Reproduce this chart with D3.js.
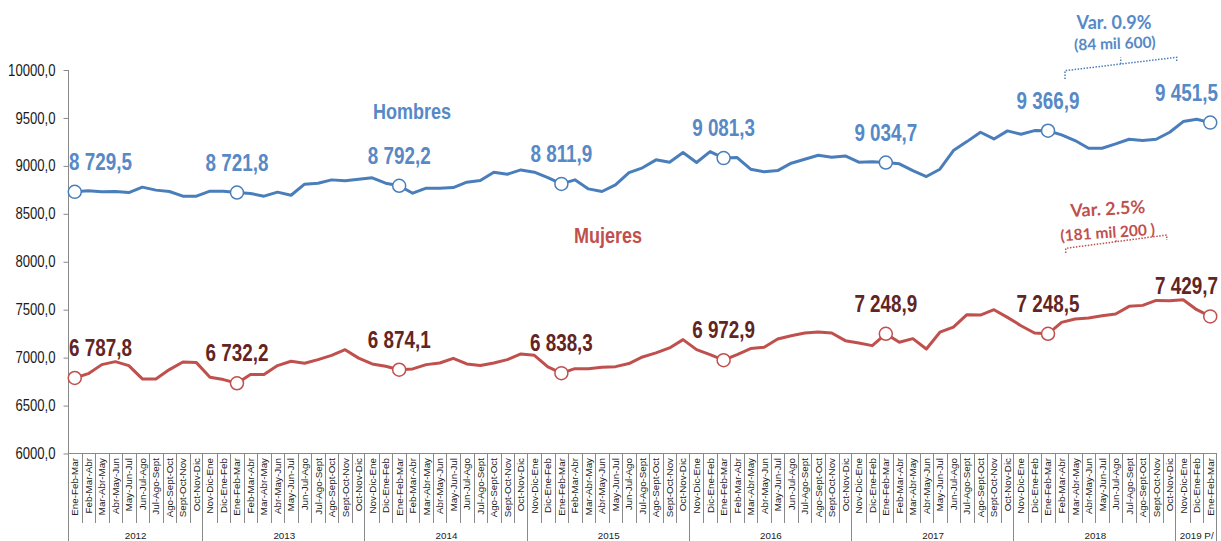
<!DOCTYPE html>
<html>
<head>
<meta charset="utf-8">
<script src="https://cdn.jsdelivr.net/npm/d3@7"></script>
<style>
  html, body { margin: 0; padding: 0; background: #fff; }
  svg { display: block; }
</style>
</head>
<body>
<svg id="chart" width="1221" height="541"></svg>
<script>
const categories = [
  "Ene-Feb-Mar","Feb-Mar-Abr","Mar-Abr-May","Abr-May-Jun","May-Jun-Jul","Jun-Jul-Ago","Jul-Ago-Sept","Ago-Sept-Oct","Sept-Oct-Nov","Oct-Nov-Dic",
  "Nov-Dic-Ene","Dic-Ene-Feb","Ene-Feb-Mar","Feb-Mar-Abr","Mar-Abr-May","Abr-May-Jun","May-Jun-Jul","Jun-Jul-Ago","Jul-Ago-Sept","Ago-Sept-Oct","Sept-Oct-Nov","Oct-Nov-Dic",
  "Nov-Dic-Ene","Dic-Ene-Feb","Ene-Feb-Mar","Feb-Mar-Abr","Mar-Abr-May","Abr-May-Jun","May-Jun-Jul","Jun-Jul-Ago","Jul-Ago-Sept","Ago-Sept-Oct","Sept-Oct-Nov","Oct-Nov-Dic",
  "Nov-Dic-Ene","Dic-Ene-Feb","Ene-Feb-Mar","Feb-Mar-Abr","Mar-Abr-May","Abr-May-Jun","May-Jun-Jul","Jun-Jul-Ago","Jul-Ago-Sept","Ago-Sept-Oct","Sept-Oct-Nov","Oct-Nov-Dic",
  "Nov-Dic-Ene","Dic-Ene-Feb","Ene-Feb-Mar","Feb-Mar-Abr","Mar-Abr-May","Abr-May-Jun","May-Jun-Jul","Jun-Jul-Ago","Jul-Ago-Sept","Ago-Sept-Oct","Sept-Oct-Nov","Oct-Nov-Dic",
  "Nov-Dic-Ene","Dic-Ene-Feb","Ene-Feb-Mar","Feb-Mar-Abr","Mar-Abr-May","Abr-May-Jun","May-Jun-Jul","Jun-Jul-Ago","Jul-Ago-Sept","Ago-Sept-Oct","Sept-Oct-Nov","Oct-Nov-Dic",
  "Nov-Dic-Ene","Dic-Ene-Feb","Ene-Feb-Mar","Feb-Mar-Abr","Mar-Abr-May","Abr-May-Jun","May-Jun-Jul","Jun-Jul-Ago","Jul-Ago-Sept","Ago-Sept-Oct","Sept-Oct-Nov","Oct-Nov-Dic",
  "Nov-Dic-Ene","Dic-Ene-Feb","Ene-Feb-Mar"
];
const yearLabels = ["2012","2013","2014","2015","2016","2017","2018","2019 P/"];
const yearCounts = [10,12,12,12,12,12,12,3];

const hombres = [
  8729.5, 8740, 8729, 8733, 8722, 8778, 8747, 8733, 8684, 8684,
  8736, 8736, 8721.8, 8712, 8684, 8726, 8694, 8809, 8819, 8854, 8844, 8860,
  8875, 8819, 8792.2, 8715, 8767, 8767, 8774, 8830, 8847, 8934, 8913, 8958,
  8934, 8878, 8811.9, 8854, 8760, 8733, 8802, 8930, 8980, 9063, 9038, 9139,
  9035, 9149, 9081.3, 9087, 8965, 8938, 8951, 9028, 9069, 9111, 9090, 9104,
  9038, 9042, 9034.7, 9021, 8951, 8889, 8965, 9160, 9253, 9351, 9281, 9365,
  9330, 9368, 9366.9, 9323, 9264, 9184, 9184, 9229, 9278, 9264, 9278, 9351,
  9462, 9486, 9451.5
];
const mujeres = [
  6787.8, 6833, 6927, 6958, 6917, 6778, 6778, 6875, 6955, 6948,
  6795, 6771, 6732.2, 6823, 6823, 6917, 6962, 6941, 6979, 7024, 7083, 6995,
  6934, 6910, 6874.1, 6882, 6927, 6944, 6993, 6934, 6917, 6944, 6979, 7038,
  7024, 6903, 6838.3, 6885, 6885, 6899, 6906, 6938, 7007, 7049, 7101, 7188,
  7083, 7031, 6972.9, 7031, 7094, 7108, 7194, 7229, 7257, 7267, 7257, 7177,
  7153, 7125, 7248.9, 7160, 7198, 7090, 7265, 7319, 7448, 7444, 7500, 7420,
  7333, 7257, 7248.5, 7368, 7403, 7413, 7437, 7455, 7535, 7545, 7597, 7594,
  7604, 7500, 7429.7
];
const highlightIdx = [0, 12, 24, 36, 48, 60, 72, 84];
const yTicks = [6000, 6500, 7000, 7500, 8000, 8500, 9000, 9500, 10000];

const BLUE = "#4a7ebb", BLUE_LBL = "#5689c6", RED = "#c0504d", RED_LBL = "#632523", AXIS = "#898989";
const SANS = "'Liberation Sans',Arial,sans-serif";
const SQ = 0.82; // horizontal squeeze to mimic a narrow face

const svg = d3.select("#chart");
svg.append("rect").attr("width", 1221).attr("height", 541).attr("fill", "#fff");

const x = d3.scaleBand().domain(d3.range(categories.length)).range([68, 1217]).padding(0);
const y = d3.scaleLinear().domain([6000, 10000]).range([453.5, 70]);
const cx = i => x(i) + x.bandwidth() / 2;

const locLabel = d3.formatLocale({decimal: ",", thousands: " ", grouping: [3], currency: ["", ""]});
const fmtLabel = locLabel.format(",.1f");
const locAxis = d3.formatLocale({decimal: ",", thousands: "", grouping: [3], currency: ["", ""]});
const fmtAxis = locAxis.format(".1f");

function narrowText(parent, tx, ty, txt, opts) {
  return parent.append("text")
    .attr("transform", `translate(${tx},${ty}) scale(${SQ},1)`)
    .attr("text-anchor", opts.anchor || "middle")
    .attr("dy", opts.dy || null)
    .attr("font-family", SANS)
    .attr("font-weight", opts.weight || "normal")
    .attr("font-size", opts.size)
    .attr("fill", opts.fill)
    .text(txt);
}

// Y axis
const yAxis = d3.axisLeft(y).tickValues(yTicks).tickSize(5).tickFormat("");
const gy = svg.append("g").attr("transform", "translate(68.5,0)").call(yAxis);
gy.select(".domain").remove();
gy.selectAll(".tick line").attr("stroke", AXIS);
const gyl = svg.append("g");
yTicks.forEach(t => narrowText(gyl, 55.5, y(t), fmtAxis(t), {anchor: "end", dy: "0.35em", size: 16, fill: "#1a1a1a"}));
svg.append("line").attr("x1", 68.5).attr("x2", 68.5).attr("y1", 70).attr("y2", 541).attr("stroke", AXIS);

// X axis line
svg.append("line").attr("x1", 68).attr("x2", 1217).attr("y1", 453.5).attr("y2", 453.5).attr("stroke", AXIS);

// category separators
const bounds = d3.range(1, categories.length);
const yearStarts = [];
{ let acc = 0; yearCounts.forEach(c => { yearStarts.push(acc); acc += c; }); yearStarts.push(acc); }
svg.append("g").selectAll("line").data(bounds.filter(b => !yearStarts.includes(b))).join("line")
  .attr("x1", b => Math.round(x(b)) + 0.5).attr("x2", b => Math.round(x(b)) + 0.5)
  .attr("y1", 453.5).attr("y2", 523).attr("stroke", AXIS);
svg.append("g").selectAll("line").data(yearStarts.slice(1)).join("line")
  .attr("x1", b => Math.round(b >= categories.length ? 1217 : x(b)) - 0.5)
  .attr("x2", b => Math.round(b >= categories.length ? 1217 : x(b)) - 0.5)
  .attr("y1", 453.5).attr("y2", 541).attr("stroke", AXIS);

// category labels
svg.append("g").selectAll("text").data(categories).join("text")
  .attr("transform", (d, i) => `translate(${cx(i)},458) rotate(-90)`)
  .attr("text-anchor", "end").attr("dy", "0.35em")
  .attr("font-family", SANS).attr("font-size", 9.8).attr("fill", "#222")
  .text(d => d);

// year labels
svg.append("g").selectAll("text").data(yearLabels).join("text")
  .attr("x", (d, k) => {
    const a = x(yearStarts[k]);
    const bEnd = yearStarts[k + 1] >= categories.length ? 1217 : x(yearStarts[k + 1]);
    return (a + bEnd) / 2;
  })
  .attr("y", 539).attr("text-anchor", "middle")
  .attr("font-family", SANS).attr("font-size", 9.8).attr("fill", "#222")
  .text(d => d);

// lines
const line = d3.line().x((d, i) => cx(i)).y(d => y(d));
svg.append("path").datum(hombres).attr("d", line).attr("fill", "none")
  .attr("stroke", BLUE).attr("stroke-width", 3).attr("stroke-linejoin", "round");
svg.append("path").datum(mujeres).attr("d", line).attr("fill", "none")
  .attr("stroke", RED).attr("stroke-width", 3).attr("stroke-linejoin", "round");

function markersAndLabels(series, color, lblColor) {
  const g = svg.append("g");
  g.selectAll("circle").data(highlightIdx).join("circle")
    .attr("cx", i => cx(i)).attr("cy", i => y(series[i])).attr("r", 6.5)
    .attr("fill", "#fff").attr("stroke", color).attr("stroke-width", 1.5);
  highlightIdx.forEach((i, k) => {
    const last = k === highlightIdx.length - 1;
    const tx = k === 0 ? 69 : (last ? 1218 : cx(i));
    narrowText(g, tx, y(series[i]) - 22, fmtLabel(series[i]), {
      anchor: k === 0 ? "start" : (last ? "end" : "middle"),
      weight: "bold", size: 23, fill: lblColor
    });
  });
}
markersAndLabels(hombres, BLUE, BLUE_LBL);
markersAndLabels(mujeres, RED, RED_LBL);

// series names
narrowText(svg, 412, 119, "Hombres", {weight: "bold", size: 22, fill: BLUE_LBL});
narrowText(svg, 608, 243, "Mujeres", {weight: "bold", size: 22, fill: RED});

// variation annotations
const ANN = "Lato,'Open Sans',sans-serif";
svg.append("text").attr("x", 1114).attr("y", 29).attr("text-anchor", "middle")
  .attr("font-family", ANN).attr("font-weight", "bold").attr("font-size", 18).attr("fill", BLUE_LBL).text("Var. 0.9%");
svg.append("text").attr("transform", "translate(1115,49) rotate(-2)").attr("text-anchor", "middle")
  .attr("font-family", ANN).attr("font-weight", "bold").attr("font-size", 15.5).attr("fill", BLUE_LBL).text("(84 mil 600)");
svg.append("path").attr("d", "M1065,79 L1065,70.7 L1176.7,57.3 L1176.7,62 M1120.7,64 L1120.7,57.5")
  .attr("fill", "none").attr("stroke", BLUE).attr("stroke-width", 1.5).attr("stroke-dasharray", "1.5,1.5");

svg.append("text").attr("transform", "translate(1108,215) rotate(-3)").attr("text-anchor", "middle")
  .attr("font-family", ANN).attr("font-weight", "bold").attr("font-size", 18).attr("fill", RED).text("Var. 2.5%");
svg.append("text").attr("transform", "translate(1108,238) rotate(-4)").attr("text-anchor", "middle")
  .attr("font-family", ANN).attr("font-weight", "bold").attr("font-size", 15.5).attr("fill", RED).text("(181 mil 200 )");
svg.append("path").attr("d", "M1065.7,253 L1065.7,248.3 L1166.7,235 L1166.7,240 M1116,241.7 L1116,238.5")
  .attr("fill", "none").attr("stroke", RED).attr("stroke-width", 1.5).attr("stroke-dasharray", "1.5,1.5");
</script>
</body>
</html>
